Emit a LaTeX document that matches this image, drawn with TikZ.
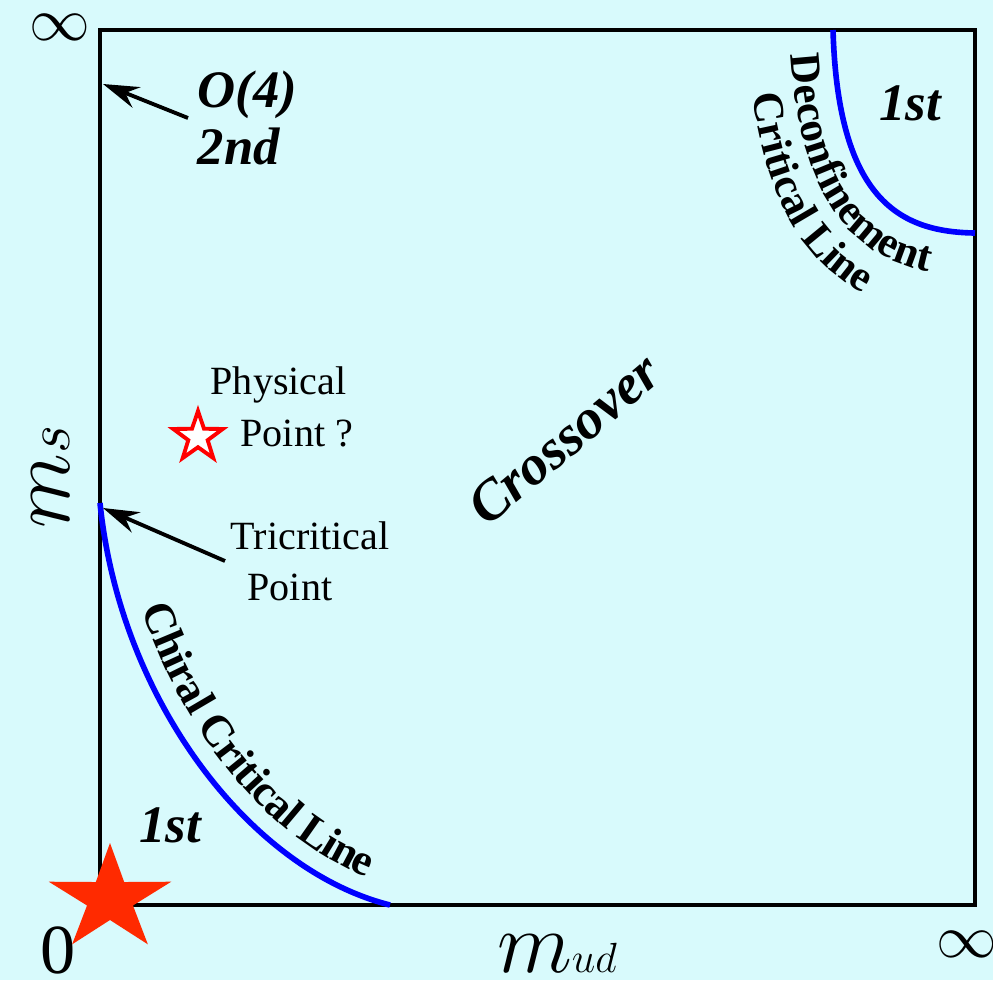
\documentclass[tikz,border=0pt]{standalone}
\usepackage{fontspec}
\setmainfont{Liberation Serif}
\usepackage{amsmath,amssymb}
\usetikzlibrary{arrows.meta,shapes.geometric,decorations.text}
\definecolor{panelcyan}{RGB}{216,250,252}
\definecolor{starred}{RGB}{255,42,0}

\begin{document}
\begin{tikzpicture}[>={Stealth[length=3.6mm,width=2.2mm,inset=1.2mm]},
	bolditalic/.style={font=\bfseries\itshape\fontsize{15}{16.2}\selectfont},
	plain/.style={font=\fontsize{11.4}{14.6}\selectfont, align=left, inner sep=0pt},
	critline/.style={blue, line width=1.6pt},
	pointer/.style={->, line width=1.1pt}]
	\fill[panelcyan] (0,0) rectangle (9.93,9.80);
	\useasboundingbox (0,0) rectangle (9.93,9.80);
	\draw[line width=1.3pt] (1.00,0.75) rectangle (9.75,9.50);
	% chiral critical line
	\draw[critline, postaction={decorate, black, decoration={text along path, raise=5.5pt, text align={left indent=1.15cm},
		text={|\bfseries\fontsize{12.6}{15}\selectfont|Chiral Critical Line}}}]
		(1.00,4.77) .. controls (1.20,2.80) and (2.50,1.10) .. (3.90,0.75);
	% deconfinement critical line
	\draw[critline] (8.33,9.50) .. controls (8.38,7.80) and (9.00,7.48) .. (9.75,7.47);
	\path[decorate, decoration={text along path, text align={left indent=0.25cm},
		text={|\bfseries\fontsize{12.3}{14}\selectfont|Deconfinement}}]
		(7.90,9.50) .. controls (7.95,7.54) and (8.74,7.05) .. (9.75,7.04);
	\path[decorate, decoration={text along path, text align={left indent=0.65cm},
		text={|\bfseries\fontsize{12.3}{14}\selectfont|Critical Line}}]
		(7.48,9.50) .. controls (7.53,7.29) and (8.49,6.63) .. (9.75,6.62);
	% region labels
	\node[bolditalic] (firstdec) at (9.10,8.77) {1st};
	\node[bolditalic] (firstchi) at (1.70,1.55) {1st};
	\node[bolditalic, rotate=40, font=\bfseries\itshape\fontsize{16}{17}\selectfont] (cross) at (5.64,5.41) {Crossover};
	\node[bolditalic, align=left, anchor=west, inner xsep=0.09cm, inner ysep=0pt] (ofour) at (1.88,8.62) {O(4)\\2nd};
	\coordinate (ofourtip) at (1.03,8.96);
	\draw[pointer] (ofour.west) -- (ofourtip);
	% tricritical point
	\node[plain, anchor=west, inner xsep=0.05cm] (tcp) at (2.25,4.19) {Tricritical\\\hspace*{4.8pt}Point};
	\coordinate (tcptip) at (1.03,4.72);
	\draw[pointer] (tcp.west) -- (tcptip);
	% physical point
	\node[star, star points=5, star point ratio=2.55, minimum size=0.52cm, inner sep=0pt,
		draw=red, line width=1.1pt, fill=white] (phys) at (1.98,5.43) {};
	\node[plain, anchor=west] (physlbl) at (2.10,5.73) {Physical\\\hspace*{8.5pt}Point ?};
	% axes
	\node (zero) at (0.58,0.30) {\fontsize{20}{20}\selectfont 0};
	\node (inftop) at (0.60,9.53) {\fontsize{16}{16}\selectfont$\infty$};
	\node (infright) at (9.67,0.36) {\fontsize{16}{16}\selectfont$\infty$};
	\node[anchor=base, rotate=90, inner sep=0pt, font=\fontsize{24}{24}\selectfont] (ms) at (0.70,5.03) {$m$\fontsize{16.5}{16.5}\selectfont$s$};
	\node[anchor=base, inner sep=0pt, font=\fontsize{23}{23}\selectfont] (mud) at (5.57,0.08) {$m$\fontsize{11.5}{11.5}\selectfont$ud$};
	% origin star
	\fill[starred, shift={(1.10,0.81)}, xscale=1.15] (90:0.56) -- (126:0.21) -- (162:0.56) -- (198:0.21) -- (234:0.56)
		-- (270:0.21) -- (306:0.56) -- (342:0.21) -- (18:0.56) -- (54:0.21) -- cycle;
\end{tikzpicture}
\end{document}
